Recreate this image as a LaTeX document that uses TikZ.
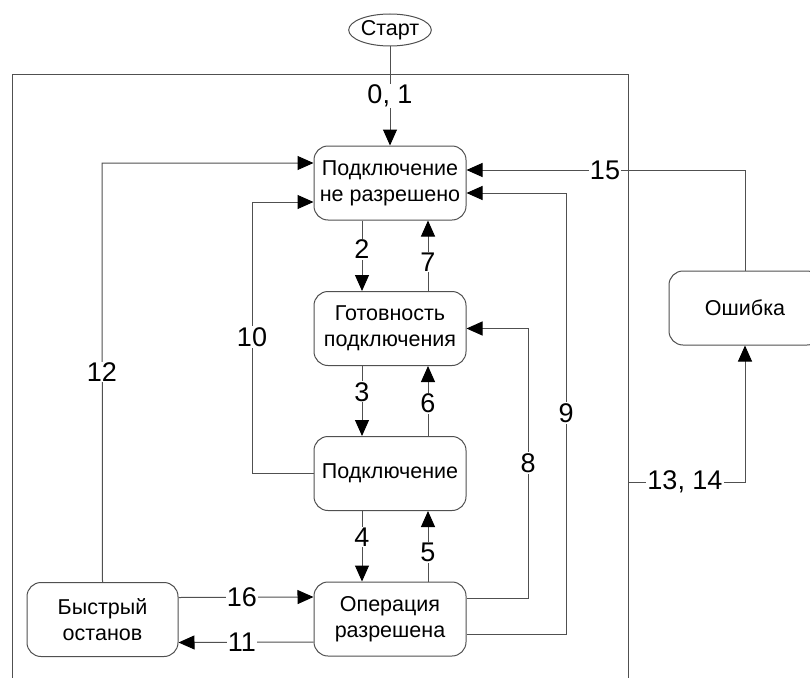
\documentclass[tikz,border=0pt]{standalone}
\usepackage{fontspec}
\setmainfont{Liberation Sans}
\usetikzlibrary{arrows.meta,calc,shapes.geometric}
\definecolor{ln}{HTML}{505050}
\begin{document}
\begin{tikzpicture}[x=1pt,y=-1pt,
  box/.style={draw=ln,line width=1pt,rounded corners=14pt,minimum width=152pt,minimum height=74pt,align=center,font=\fontsize{21.5}{26}\selectfont,inner sep=2pt},
  conn/.style={draw=ln,line width=1pt},
  arr/.style={conn,-{Triangle[length=16pt,width=14pt,fill=black,color=black]}},
  lab/.style={fill=white,inner sep=1pt,font=\fontsize{27}{28}\selectfont}]
\useasboundingbox (0,0) rectangle (810,677);
% outer frame
\draw[conn] (12,700) -- (12,74) -- (628,74) -- (628,700);
% nodes
\node[draw=ln,line width=1pt,ellipse,minimum width=76pt,minimum height=32pt,inner sep=0pt,font=\fontsize{21.5}{22}\selectfont] (start) at (390,30) {Старт};
\node[box] (n1) at (390,183) {Подключение\\не разрешено};
\node[box] (n2) at (390,328.5) {Готовность\\подключения};
\node[box] (n3) at (390,473.5) {Подключение};
\node[box] (n4) at (390,619) {Операция\\разрешена};
\node[box,minimum width=151pt] (stop) at (102.5,619.5) {Быстрый\\останов};
\node[box] (err) at (745,308) {Ошибка};
\coordinate (fr) at (628,482);
% start
\draw[arr] (start.south) -- (n1.north) node[lab,pos=0.5]{0, 1};
% vertical chain
\draw[arr] ([xshift=-28pt]n1.south) -- ([xshift=-28pt]n2.north) node[lab,pos=0.41]{2};
\draw[arr] ([xshift=38pt]n2.north) -- ([xshift=38pt]n1.south) node[lab,pos=0.41]{7};
\draw[arr] ([xshift=-28pt]n2.south) -- ([xshift=-28pt]n3.north) node[lab,pos=0.37]{3};
\draw[arr] ([xshift=38pt]n3.north) -- ([xshift=38pt]n2.south) node[lab,pos=0.47]{6};
\draw[arr] ([xshift=-28pt]n3.south) -- ([xshift=-28pt]n4.north) node[lab,pos=0.37]{4};
\draw[arr] ([xshift=38pt]n4.north) -- ([xshift=38pt]n3.south) node[lab,pos=0.41]{5};
% 8
\draw[arr] ([yshift=21pt]n4.east) -- (528,598) -- (528,328.5) -- (n2.east);
\node[lab] at (528,463) {8};
% 9
\draw[arr] ([yshift=-15pt]n4.east) -- (566,634) -- (566,193) -- ([yshift=-10pt]n1.east);
\node[lab] at (566,413) {9};
% 10
\draw[arr] (n3.west) -- (252,473.5) -- (252,202) -- ([yshift=-19pt]n1.west);
\node[lab] at (252,337) {10};
% 12
\draw[arr] (stop.north) -- (102,163) -- ([yshift=20pt]n1.west);
\node[lab] at (102,372) {12};
% 15
\draw[arr] (err.north) -- (745,170) -- ([yshift=13pt]n1.east);
\node[lab] at (605,170) {15};
% 13, 14
\draw[arr] (fr) -- (745,482) -- (err.south);
\node[lab] at (685,482) {13, 14};
% 16, 11
\draw[arr] ([yshift=22pt]stop.east) -- ([yshift=22pt]n4.west) node[lab,pos=0.47]{16};
\draw[arr] ([yshift=-23pt]n4.west) -- ([yshift=-23pt]stop.east) node[lab,pos=0.53]{11};
\end{tikzpicture}
\end{document}
